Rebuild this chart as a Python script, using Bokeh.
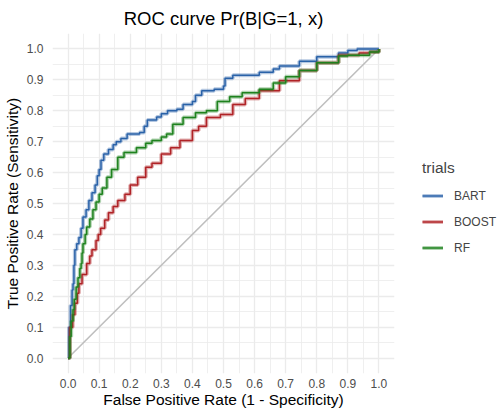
from bokeh.plotting import figure
from bokeh.models import Range1d, FixedTicker, Legend, LegendItem, Title, NumeralTickFormatter
from bokeh.embed import file_html
from bokeh.resources import INLINE

# ---- data ----
bart_fpr = [0, 0.003, 0.008, 0.013, 0.016, 0.019, 0.022, 0.028, 0.035, 0.042, 0.048, 0.058,
            0.067, 0.077, 0.087, 0.094, 0.10, 0.106, 0.115, 0.13, 0.145, 0.155, 0.17, 0.19,
            0.23, 0.245, 0.255, 0.285, 0.30, 0.32, 0.35, 0.37, 0.40, 0.41, 0.43, 0.47, 0.50,
            0.505, 0.53, 0.615, 0.66, 0.68, 0.744, 0.80, 0.87, 0.90, 0.93, 1.0]
bart_tpr = [0, 0.10, 0.17, 0.22, 0.24, 0.30, 0.35, 0.37, 0.39, 0.42, 0.456, 0.48,
            0.51, 0.535, 0.56, 0.59, 0.61, 0.64, 0.66, 0.675, 0.69, 0.70, 0.71, 0.725,
            0.73, 0.75, 0.77, 0.78, 0.79, 0.80, 0.805, 0.82, 0.83, 0.85, 0.865, 0.87, 0.88,
            0.905, 0.915, 0.925, 0.935, 0.945, 0.96, 0.975, 0.987, 0.995, 1.0, 1.0]

boost_fpr = [0, 0.006, 0.015, 0.022, 0.03, 0.035, 0.045, 0.06, 0.07, 0.077, 0.09, 0.097,
             0.105, 0.118, 0.13, 0.145, 0.16, 0.183, 0.20, 0.224, 0.25, 0.27, 0.30, 0.33,
             0.36, 0.40, 0.42, 0.445, 0.49, 0.53, 0.57, 0.615, 0.68, 0.744, 0.80, 0.87,
             0.936, 0.97, 1.0]
boost_tpr = [0, 0.10, 0.14, 0.177, 0.21, 0.24, 0.27, 0.306, 0.33, 0.35, 0.38, 0.40,
             0.42, 0.447, 0.47, 0.49, 0.51, 0.53, 0.56, 0.585, 0.617, 0.63, 0.66, 0.68,
             0.704, 0.736, 0.75, 0.778, 0.788, 0.82, 0.84, 0.865, 0.897, 0.93, 0.955, 0.98,
             0.987, 0.99, 1.0]

rf_fpr = [0, 0.006, 0.01, 0.016, 0.02, 0.026, 0.032, 0.038, 0.042, 0.045, 0.048, 0.055,
          0.06, 0.07, 0.08, 0.09, 0.10, 0.11, 0.125, 0.14, 0.16, 0.18, 0.22, 0.25, 0.27,
          0.30, 0.317, 0.337, 0.37, 0.41, 0.445, 0.48, 0.52, 0.56, 0.615, 0.66, 0.70,
          0.744, 0.80, 0.87, 0.90, 0.97, 1.0]
rf_tpr = [0, 0.07, 0.12, 0.157, 0.19, 0.23, 0.26, 0.29, 0.306, 0.34, 0.37, 0.40,
          0.424, 0.45, 0.48, 0.505, 0.53, 0.55, 0.585, 0.61, 0.65, 0.665, 0.68, 0.695, 0.704,
          0.715, 0.725, 0.756, 0.778, 0.794, 0.80, 0.83, 0.845, 0.858, 0.87, 0.89, 0.91,
          0.93, 0.955, 0.977, 0.98, 0.99, 1.0]

diag = [0, 1]
series_names = ["BART", "BOOST", "RF"]
series_colors = ["#2a62a8", "#b02226", "#1e821e"]
tick_values = [0, 0.1, 0.2, 0.3, 0.4, 0.5, 0.6, 0.7, 0.8, 0.9, 1.0]
minor_values = [-0.05, 0.05, 0.15, 0.25, 0.35, 0.45, 0.55, 0.65, 0.75, 0.85, 0.95, 1.05]

FONT = "Liberation Sans"

p = figure(frame_width=342, frame_height=340, output_backend="svg", toolbar_location=None,
           x_range=Range1d(-0.05, 1.05), y_range=Range1d(-0.05, 1.05),
           min_border_left=45, min_border_right=97, min_border_top=25, min_border_bottom=35)
p.outline_line_color = None
p.background_fill_color = "white"

p.title = Title(text="ROC curve Pr(B|G=1, x)", align="center", text_font=FONT,
                text_font_size="18.5px", text_font_style="normal", text_color="black",
                standoff=10)

for ax in (p.xaxis[0], p.yaxis[0]):
    ax.ticker = FixedTicker(ticks=tick_values, minor_ticks=minor_values)
    ax.formatter = NumeralTickFormatter(format="0.0")
    ax.axis_line_color = None
    ax.major_tick_line_color = None
    ax.minor_tick_line_color = None
    ax.major_tick_out = 0
    ax.minor_tick_out = 0
    ax.major_label_text_font = FONT
    ax.major_label_text_font_size = "12px"
    ax.major_label_text_color = "#4d4d4d"
    ax.axis_label_text_font = FONT
    ax.axis_label_text_font_size = "15.5px"
    ax.axis_label_text_font_style = "normal"
    ax.axis_label_text_color = "black"
    ax.axis_label_standoff = 0

p.xaxis.axis_label = "False Positive Rate (1 - Specificity)"
p.yaxis.axis_label = "True Positive Rate (Sensitivity)"
p.xaxis.major_label_standoff = 5
p.yaxis.major_label_standoff = 9
p.yaxis.axis_label_standoff = 3

for g in (p.xgrid[0], p.ygrid[0]):
    g.grid_line_color = "#ebebeb"
    g.grid_line_width = 1.3
    g.minor_grid_line_color = "#ebebeb"
    g.minor_grid_line_width = 0.8

p.line(diag, diag, line_color="#bebebe", line_width=1.6)

items = []
for name, fx, ty, col in zip(series_names, [bart_fpr, boost_fpr, rf_fpr],
                             [bart_tpr, boost_tpr, rf_tpr], series_colors):
    r1 = p.step(fx, ty, mode="after", line_color=col, line_width=4, line_alpha=0.35)
    r2 = p.step(fx, ty, mode="after", line_color=col, line_width=1.5)
    items.append(LegendItem(label=name, renderers=[r1, r2]))

legend = Legend(items=items, location=(28, 115), padding=0, margin=0, spacing=5,
                glyph_width=21, glyph_height=21, label_height=21, label_standoff=11,
                label_text_font=FONT, label_text_font_size="12px",
                title="trials", title_text_font=FONT, title_text_font_size="15.5px",
                title_text_font_style="normal", title_standoff=8,
                background_fill_alpha=0, border_line_color=None)
p.add_layout(legend, "right")

open("out.html", "w").write(file_html(p, INLINE))
